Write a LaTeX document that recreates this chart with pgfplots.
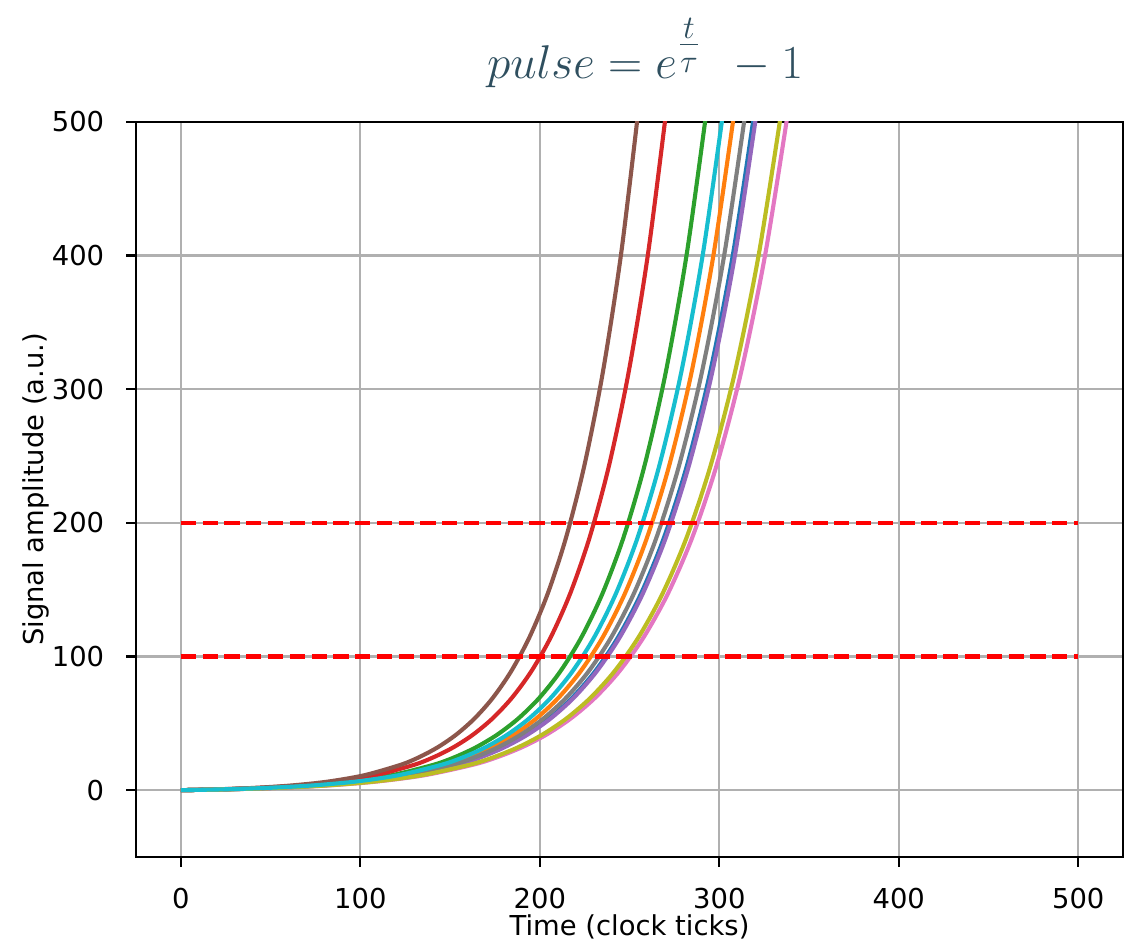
\documentclass[border=0pt]{standalone}
\usepackage[no-math]{fontspec}
\setmainfont{DejaVu Sans}
\usepackage{pgfplots}
\usepackage{pgfplotstable}
\pgfplotsset{compat=1.18}

\definecolor{c0}{HTML}{1F77B4}
\definecolor{c1}{HTML}{FF7F0E}
\definecolor{c2}{HTML}{2CA02C}
\definecolor{c3}{HTML}{D62728}
\definecolor{c4}{HTML}{9467BD}
\definecolor{c5}{HTML}{8C564B}
\definecolor{c6}{HTML}{E377C2}
\definecolor{c7}{HTML}{7F7F7F}
\definecolor{c8}{HTML}{BCBD22}
\definecolor{c9}{HTML}{17BECF}
\definecolor{gridgray}{HTML}{B0B0B0}
\definecolor{titlecol}{HTML}{2F4F5F}

% pulse = exp(t/tau) - 1, time at which each pulse reaches y
\pgfplotstableread{
y        blue    orange  green   red     purple  brown   pink    gray    olive   cyan
0        0       0       0       0       0       0       0       0       0       0
0.649    25.65   24.75   23.5    21.7    25.75   20.45   27.15   25.25   26.85   24.25
1.718    51.3    49.5    47.0    43.4    51.5    40.9    54.3    50.5    53.7    48.5
3.482    76.95   74.25   70.5    65.1    77.25   61.35   81.45   75.75   80.55   72.75
6.389    102.6   99.0    94.0    86.8    103.0   81.8    108.6   101.0   107.4   97.0
11.182   128.25  123.75  117.5   108.5   128.75  102.25  135.75  126.25  134.25  121.25
19.086   153.9   148.5   141.0   130.2   154.5   122.7   162.9   151.5   161.1   145.5
24.790   166.73  160.88  152.75  141.05  167.38  132.93  176.48  164.13  174.53  157.63
32.115   179.55  173.25  164.5   151.9   180.25  143.15  190.05  176.75  187.95  169.75
41.521   192.38  185.63  176.25  162.75  193.13  153.38  203.63  189.38  201.38  181.88
53.598   205.2   198.0   188.0   173.6   206.0   163.6   217.2   202.0   214.8   194.0
69.105   218.03  210.38  199.75  184.45  218.88  173.83  230.78  214.63  228.23  206.13
89.017   230.85  222.75  211.5   195.3   231.75  184.05  244.35  227.25  241.65  218.25
114.584  243.68  235.13  223.25  206.15  244.63  194.28  257.93  239.88  255.08  230.38
147.413  256.5   247.5   235.0   217.0   257.5   204.5   271.5   252.5   268.5   242.5
189.566  269.33  259.88  246.75  227.85  270.38  214.73  285.08  265.13  281.93  254.63
243.692  282.15  272.25  258.5   238.7   283.25  224.95  298.65  277.75  295.35  266.75
313.190  294.98  284.63  270.25  249.55  296.13  235.18  312.23  290.38  308.78  278.88
402.429  307.8   297.0   282.0   260.4   309.0   245.4   325.8   303.0   322.2   291.0
517.013  320.63  309.38  293.75  271.25  321.88  255.63  339.38  315.63  335.63  303.13
}\pulses

\begin{document}
\begin{tikzpicture}
\useasboundingbox (-49.64pt,-31.39pt) rectangle (363.54pt,312.81pt);
\begin{axis}[
  scale only axis,
  width=360.3pt, height=268.3pt,
  xmin=-25, xmax=525, ymin=-50, ymax=500,
  xtick={0,100,200,300,400,500},
  ytick={0,100,200,300,400,500},
  xtick pos=bottom, ytick pos=left,
  tick align=outside,
  major tick length=3.5pt,
  every tick/.style={black, line width=0.8pt},
  axis line style={line width=0.8pt},
  grid=major,
  major grid style={gridgray, line width=0.8pt},
  font=\fontsize{10}{12}\selectfont,
  /pgf/number format/assume math mode=true,
  xticklabel style={yshift=-4.2pt},
  yticklabel style={xshift=-4.6pt},
  xlabel={Time (clock ticks)},
  ylabel={Signal amplitude (a.u.)},
  xlabel style={at={(axis description cs:0.5,-0.1062)}, anchor=base},
  ylabel style={at={(axis description cs:-0.0941,0.5)}, anchor=base, rotate=0},
  clip=true,
  every axis plot/.append style={line width=1.5pt, smooth},
]
\addplot[c0] table[x=blue, y=y] {\pulses};
\addplot[c1] table[x=orange, y=y] {\pulses};
\addplot[c2] table[x=green, y=y] {\pulses};
\addplot[c3] table[x=red, y=y] {\pulses};
\addplot[c4] table[x=purple, y=y] {\pulses};
\addplot[c5] table[x=brown, y=y] {\pulses};
\addplot[c6] table[x=pink, y=y] {\pulses};
\addplot[c7] table[x=gray, y=y] {\pulses};
\addplot[c8] table[x=olive, y=y] {\pulses};
\addplot[c9] table[x=cyan, y=y] {\pulses};
\addplot[red, sharp plot, dash pattern=on 5.55pt off 2.4pt] coordinates {(0,100) (500,100)};
\addplot[red, sharp plot, dash pattern=on 5.55pt off 2.4pt] coordinates {(0,200) (500,200)};
\end{axis}
\node[anchor=base, text=titlecol, font=\fontsize{18}{22}\selectfont] at (185.8pt,284.3pt)
  {$pulse = e^{\textstyle\frac{t}{\tau}}\;\, - 1$};
\end{tikzpicture}
\end{document}
